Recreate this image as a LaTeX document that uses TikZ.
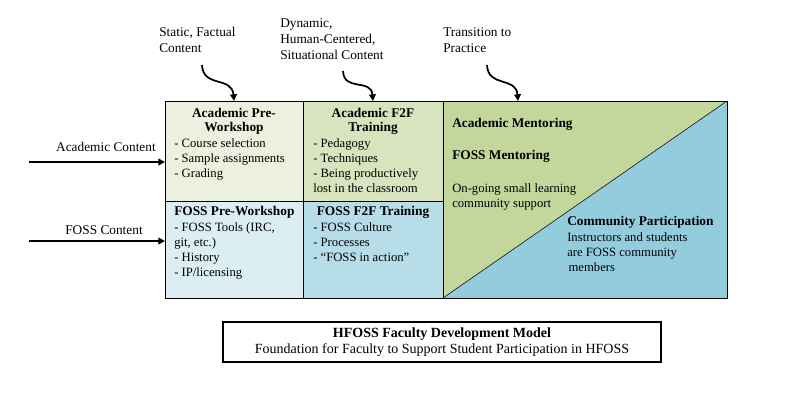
\documentclass[tikz,border=0pt]{standalone}
\usepackage{fontspec}
\setmainfont{Liberation Serif}
\usetikzlibrary{arrows.meta}
\definecolor{acadpre}{HTML}{EBF1DE}
\definecolor{acadftf}{HTML}{D7E4BD}
\definecolor{acadmen}{HTML}{C3D69B}
\definecolor{fosspre}{HTML}{DBEEF4}
\definecolor{fossftf}{HTML}{B7DEE8}
\definecolor{fosscom}{HTML}{93CDDD}
\begin{document}
\begin{tikzpicture}[x=0.75pt,y=-0.75pt,
  head/.style={font=\fontsize{10}{10.5}\selectfont\bfseries,inner sep=0pt,align=center},
  item/.style={font=\fontsize{9.5}{11.25}\selectfont,inner sep=0pt,align=left,anchor=north west},
  lbl/.style={font=\fontsize{10}{12}\selectfont,inner sep=0pt,align=left,anchor=north west},
  curl/.style={-{Triangle[length=5pt,width=5pt]},line width=1.3pt}]
  \useasboundingbox (0,0) rectangle (788,412);
  % cells
  \fill[acadpre] (165,101) rectangle (303,201);
  \fill[acadftf] (303,101) rectangle (443,201);
  \fill[fosspre] (165,201) rectangle (303,298);
  \fill[fossftf] (303,201) rectangle (443,298);
  \fill[acadmen] (443,101) -- (727,101) -- (443,298) -- cycle;
  \fill[fosscom] (443,298) -- (727,101) -- (727,298) -- cycle;
  \draw (165,101) rectangle (727,298);
  \draw (303,101) -- (303,298);
  \draw (443,101) -- (443,298);
  \draw (165,201) -- (443,201);
  \draw (443,298) -- (727,101);
  \coordinate (topa) at (234,101);
  \coordinate (topb) at (373,101);
  \coordinate (topc) at (518,101);
  \coordinate (stata) at (202,65);
  \coordinate (dyna) at (343,71);
  \coordinate (transa) at (487,65);
  \coordinate (acin) at (165,162);
  \coordinate (fossin) at (165,241);
  \coordinate (acout) at (29,162);
  \coordinate (fossout) at (29,241);
  % cell texts
  \node[head,anchor=north] (apwh) at (234,108) {Academic Pre-\\Workshop};
  \node[item] (apwl) at (174,138) {- Course selection\\- Sample assignments\\- Grading};
  \node[head,anchor=north] (afh) at (373,108) {Academic F2F\\Training};
  \node[item] (afl) at (313,138) {- Pedagogy\\- Techniques\\- Being productively\\lost in the classroom};
  \node[head,anchor=north west] (fpwh) at (174,206) {FOSS Pre-Workshop};
  \node[item] (fpwl) at (174,222) {- FOSS Tools (IRC,\\git, etc.)\\- History\\- IP/licensing};
  \node[head,anchor=north] (ffh) at (373,206) {FOSS F2F Training};
  \node[item] (ffl) at (313,222) {- FOSS Culture\\- Processes\\- ``FOSS in action''};
  \node[head,anchor=north west] (amh) at (452,118) {Academic Mentoring};
  \node[head,anchor=north west] (fmh) at (452,150) {FOSS Mentoring};
  \node[item] (supl) at (452,183) {On-going small learning\\community support};
  \node[head,anchor=north west] (cph) at (567,216) {Community Participation};
  \node[item] (cpl) at (567,232) {Instructors and students\\are FOSS community\\\hspace{1pt}members};
  % top labels
  \node[lbl] (stat) at (159,27) {Static, Factual\\Content};
  \node[lbl] (dyn) at (280,18) {Dynamic,\\Human-Centered,\\Situational Content};
  \node[lbl] (trans) at (443,27) {Transition to\\Practice};
  \draw[curl] (stata) .. controls (203,88) and (232,76) .. (topa);
  \draw[curl] (dyna) .. controls (344,92) and (371,78) .. (topb);
  \draw[curl] (transa) .. controls (488,88) and (516,76) .. (topc);
  % side labels
  \node[lbl,anchor=east] (acl) at (156,147) {Academic Content};
  \node[lbl,anchor=east] (fossl) at (143,230) {FOSS Content};
  \draw[-{Triangle[length=5pt,width=5pt]},line width=1.3pt] (acout) -- (acin);
  \draw[-{Triangle[length=5pt,width=5pt]},line width=1.3pt] (fossout) -- (fossin);
  % caption
  \node[draw,line width=0.9pt,minimum width=438*0.75pt,minimum height=40*0.75pt,inner sep=0pt,align=center,
    font=\fontsize{10.5}{12.5}\selectfont] (cap) at (442,342)
    {\textbf{HFOSS Faculty Development Model}\\Foundation for Faculty to Support Student Participation in HFOSS};
\end{tikzpicture}
\end{document}
